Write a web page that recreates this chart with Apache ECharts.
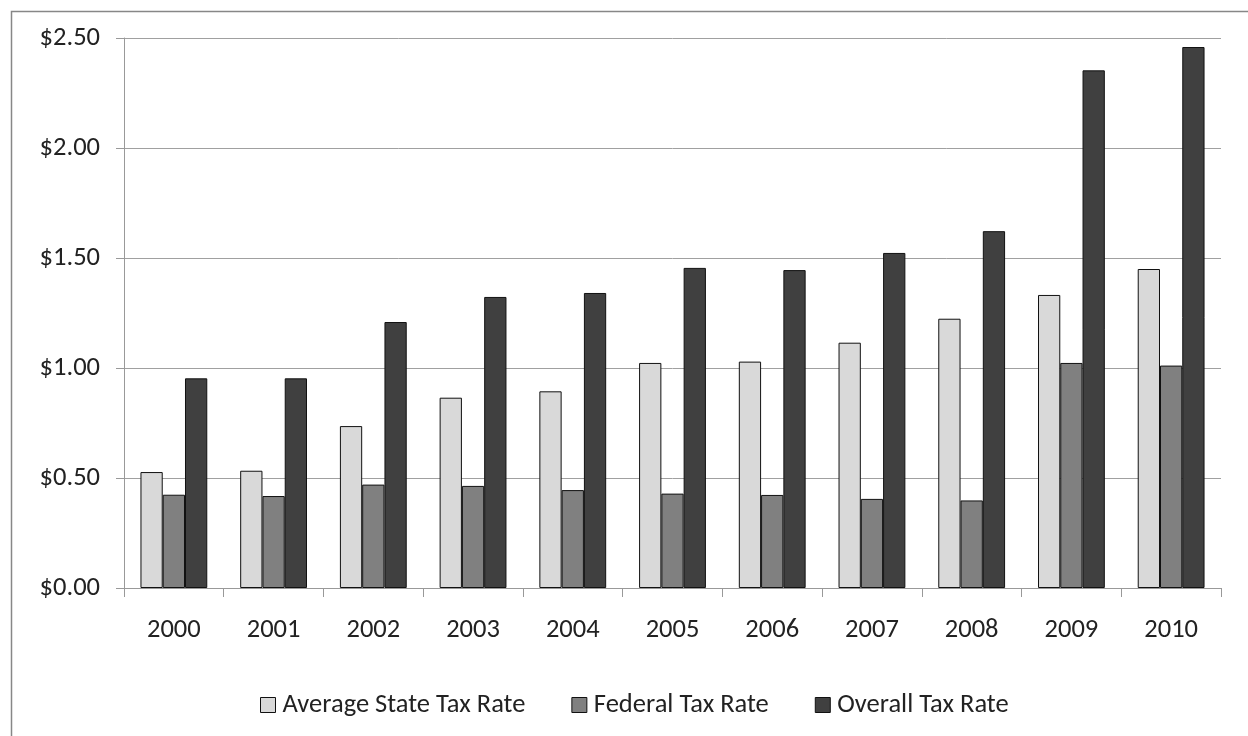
<!DOCTYPE html>
<html>
<head>
<meta charset="utf-8">
<script src="https://cdn.jsdelivr.net/npm/echarts@6/dist/echarts.min.js"></script>
<style>
html,body{margin:0;padding:0;background:#fff;}
#chart{width:1248px;height:736px;}
</style>
</head>
<body>
<div id="chart"></div>
<script>
var years = ['2000','2001','2002','2003','2004','2005','2006','2007','2008','2009','2010'];
var stateRate = [0.527, 0.533, 0.736, 0.865, 0.894, 1.023, 1.029, 1.115, 1.224, 1.332, 1.450];
var federalRate = [0.424, 0.418, 0.470, 0.464, 0.445, 0.429, 0.423, 0.405, 0.398, 1.023, 1.011];
var overallRate = [0.953, 0.953, 1.209, 1.323, 1.341, 1.455, 1.445, 1.523, 1.622, 2.353, 2.459];
var seriesNames = ['Average State Tax Rate', 'Federal Tax Rate', 'Overall Tax Rate'];

var FONT = "Carlito, 'Open Sans', sans-serif";
var FS = 26.5;
var chart = echarts.init(document.getElementById('chart'), null, {renderer: 'canvas'});
function mk(name, data, color) {
  return {
    name: name, type: 'bar', data: data,
    barGap: '0%', barCategoryGap: '33%',
    itemStyle: {color: color, borderColor: '#111', borderWidth: 1},
    animation: false
  };
}
chart.setOption({
  animation: false,
  backgroundColor: '#fff',
  graphic: [{
    type: 'rect', left: 9, top: 9, silent: true,
    shape: {x: 0, y: 0, width: 1300, height: 800},
    style: {fill: 'none', stroke: '#878787', lineWidth: 1.5}
  }],
  grid: {left: 124, right: 27, top: 38, bottom: 148, containLabel: false},
  legend: {
    data: seriesNames,
    left: 255, top: 685,
    itemWidth: 15, itemHeight: 15, itemGap: 46,
    icon: 'rect',
    itemStyle: {borderColor: '#111', borderWidth: 1},
    textStyle: {fontFamily: FONT, fontSize: FS, color: '#222', lineHeight: 30, padding: [0,0,0,2]}
  },
  xAxis: {
    type: 'category', data: years,
    axisLine: {lineStyle: {color: '#999', width: 1}},
    axisTick: {show: true, length: 9, lineStyle: {color: '#999'}},
    axisLabel: {fontFamily: FONT, fontSize: FS, color: '#222', margin: 29}
  },
  yAxis: {
    type: 'value', min: 0, max: 2.5, interval: 0.5,
    axisLine: {show: true, lineStyle: {color: '#999', width: 1}},
    axisTick: {show: true, length: 8, lineStyle: {color: '#999'}},
    splitLine: {lineStyle: {color: '#a0a0a0', width: 1}},
    axisLabel: {fontFamily: FONT, fontSize: FS, color: '#222', margin: 24,
      formatter: function (v) { return '$' + v.toFixed(2); }}
  },
  series: [
    mk(seriesNames[0], stateRate, '#d9d9d9'),
    mk(seriesNames[1], federalRate, '#808080'),
    mk(seriesNames[2], overallRate, '#404040')
  ]
});
</script>
</body>
</html>
